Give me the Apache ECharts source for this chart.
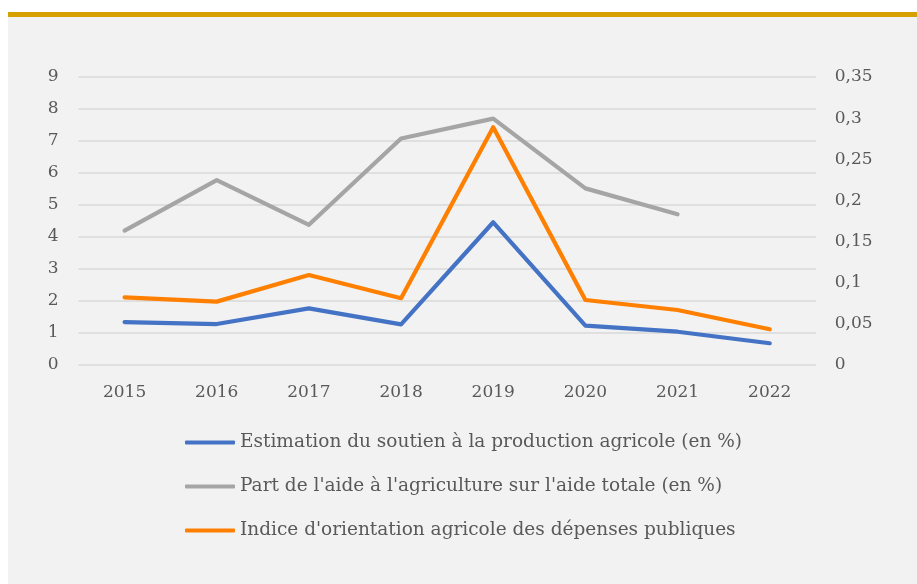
<!DOCTYPE html>
<html>
<head>
<meta charset="utf-8">
<script src="https://cdn.jsdelivr.net/npm/echarts@6/dist/echarts.min.js"></script>
<style>
html,body{margin:0;padding:0;background:#ffffff;}
#chart{width:917px;height:584px;}
</style>
</head>
<body>
<div id="chart"></div>
<script>
const years = ['2015','2016','2017','2018','2019','2020','2021','2022'];
const seriesNames = [
  'Estimation du soutien à la production agricole (en %)',
  "Part de l'aide à l'agriculture sur l'aide totale (en %)",
  "Indice d'orientation agricole des dépenses publiques"
];
const soutienProduction = [1.34, 1.28, 1.77, 1.27, 4.46, 1.23, 1.04, 0.68];
const partAideAgricole = [4.20, 5.78, 4.38, 7.08, 7.70, 5.52, 4.71, null];
const indiceOrientation = [0.0823, 0.0770, 0.1094, 0.0812, 0.2889, 0.0790, 0.0668, 0.0434];
const leftTicks = {min: 0, max: 9, interval: 1};
const rightTicks = {min: 0, max: 0.35, interval: 0.05};

const colors = ['#4472C4', '#A5A5A5', '#FF7F00'];
const font = 'DejaVu Serif';
const txt = '#595959';

const chart = echarts.init(document.getElementById('chart'), null, {renderer: 'canvas'});
function lineSeries(name, data, color, axis) {
  return {
    name: name, type: 'line', data: data, yAxisIndex: axis,
    symbol: 'none', smooth: false, connectNulls: false,
    lineStyle: {color: color, width: 4.2, cap: 'round', join: 'round'},
    itemStyle: {color: color},
    emphasis: {disabled: true}
  };
}
chart.setOption({
  animation: false,
  backgroundColor: '#ffffff',
  graphic: [
    {type: 'rect', left: 8, top: 12, shape: {width: 909, height: 572}, style: {fill: '#F2F2F2'}, z: -10, silent: true},
    {type: 'rect', left: 8, top: 12, shape: {width: 909, height: 5}, style: {fill: '#D6A100'}, z: -9, silent: true}
  ],
  grid: {left: 78.5, right: 101.2, top: 77, bottom: 219},
  xAxis: {
    type: 'category', data: years, boundaryGap: true,
    axisLine: {show: false}, axisTick: {show: false},
    axisLabel: {color: txt, fontFamily: font, fontSize: 17, margin: 19},
    splitLine: {show: false}
  },
  yAxis: [
    {
      type: 'value', position: 'left', min: leftTicks.min, max: leftTicks.max, interval: leftTicks.interval,
      axisLine: {show: false}, axisTick: {show: false},
      axisLabel: {color: txt, fontFamily: font, fontSize: 17, margin: 20},
      splitLine: {show: true, lineStyle: {color: '#D9D9D9', width: 1.5}}
    },
    {
      type: 'value', position: 'right', min: rightTicks.min, max: rightTicks.max, interval: rightTicks.interval,
      axisLine: {show: false}, axisTick: {show: false},
      axisLabel: {color: txt, fontFamily: font, fontSize: 17, margin: 19,
        formatter: v => String(+v.toFixed(2)).replace('.', ',')},
      splitLine: {show: false}
    }
  ],
  legend: {
    show: true, orient: 'vertical', left: 185, top: 433, padding: 0,
    itemWidth: 50, itemHeight: 4, itemGap: 25,
    icon: 'roundRect',
    textStyle: {color: txt, fontFamily: font, fontSize: 18.5},
    data: seriesNames, selectedMode: false
  },
  series: [
    lineSeries(seriesNames[0], soutienProduction, colors[0], 0),
    lineSeries(seriesNames[1], partAideAgricole, colors[1], 0),
    lineSeries(seriesNames[2], indiceOrientation, colors[2], 1)
  ]
});
</script>
</body>
</html>
